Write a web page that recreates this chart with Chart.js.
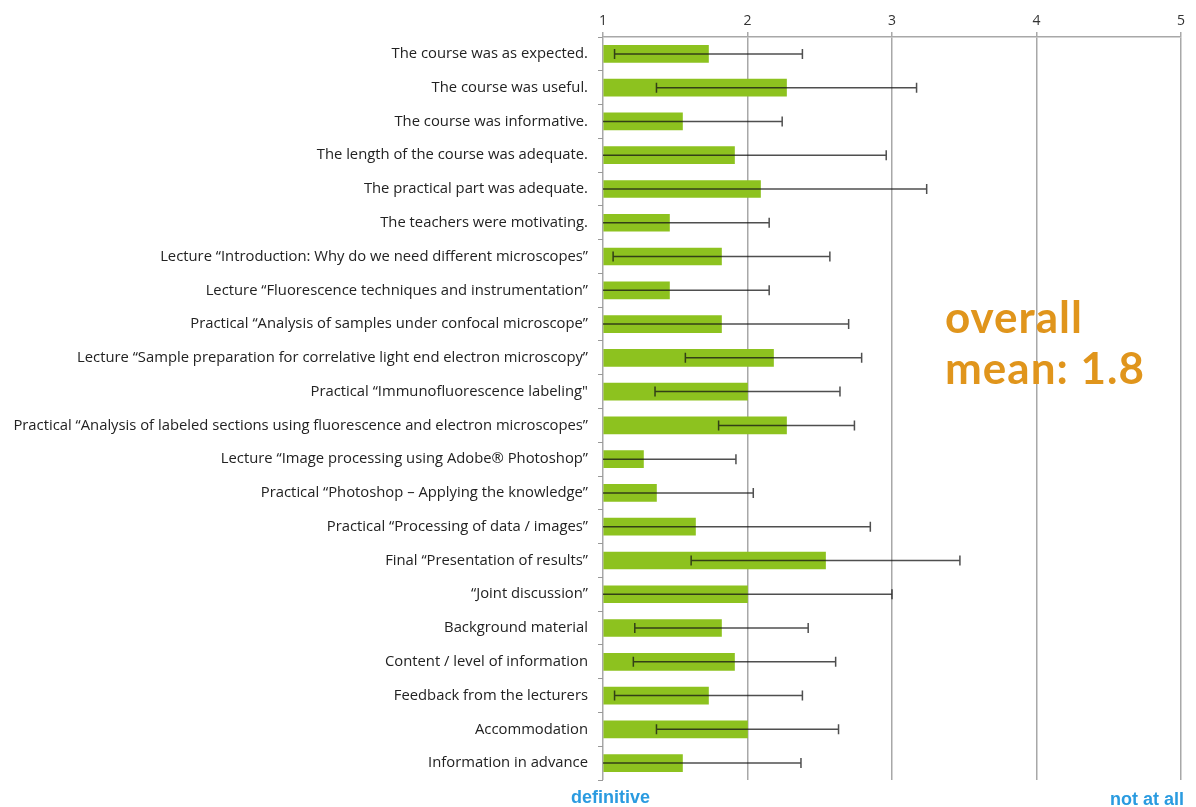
<!DOCTYPE html>
<html>
<head>
<meta charset="utf-8">
<script src="https://cdn.jsdelivr.net/npm/chart.js@4/dist/chart.umd.min.js"></script>
<style>
  body { margin: 0; background: #fff; }
  #wrap { position: relative; width: 1196px; height: 807px; }
  .note { position: absolute; white-space: nowrap; }
  #mean { left: 945px; top: 291px; color: #e0951c; font: bold 44px Lato, sans-serif; line-height: 51px; letter-spacing: 1px; }
  .blue { color: #2a9be0; font: bold 18px "Liberation Sans", sans-serif; }
</style>
</head>
<body>
<div id="wrap">
  <canvas id="chart" width="1196" height="807"></canvas>
  <div id="mean" class="note">overall<br>mean: 1.8</div>
  <div class="note blue" style="left:571px; top:787px;">definitive</div>
  <div class="note blue" style="left:1110px; top:789px;">not at all</div>
</div>
<script>
const categories = [
  'The course was as expected.',
  'The course was useful.',
  'The course was informative.',
  'The length of the course was adequate.',
  'The practical part was adequate.',
  'The teachers were motivating.',
  'Lecture \u201cIntroduction: Why do we need different microscopes\u201d',
  'Lecture \u201cFluorescence techniques and instrumentation\u201d',
  'Practical \u201cAnalysis of samples under confocal microscope\u201d',
  'Lecture \u201cSample preparation for correlative light end electron microscopy\u201d',
  'Practical \u201cImmunofluorescence labeling"',
  'Practical \u201cAnalysis of labeled sections using fluorescence and electron microscopes\u201d',
  'Lecture \u201cImage processing using Adobe\u00ae Photoshop\u201d',
  'Practical \u201cPhotoshop \u2013 Applying the knowledge\u201d',
  'Practical \u201cProcessing of data / images\u201d',
  'Final \u201cPresentation of results\u201d',
  '\u201cJoint discussion\u201d',
  'Background material',
  'Content / level of information',
  'Feedback from the lecturers',
  'Accommodation',
  'Information in advance'
];

const means = [1.73, 2.27, 1.55, 1.91, 2.09, 1.46, 1.82, 1.46, 1.82, 2.18, 2.0,
               2.27, 1.28, 1.37, 1.64, 2.54, 2.0, 1.82, 1.91, 1.73, 2.0, 1.55];
const stdDevs = [0.65, 0.9, 0.69, 1.05, 1.15, 0.69, 0.75, 0.69, 0.88, 0.61, 0.64,
                 0.47, 0.64, 0.67, 1.21, 0.93, 1.0, 0.6, 0.7, 0.65, 0.63, 0.82];
const scaleTicks = [1, 2, 3, 4, 5];

// error bars drawn on top of the bars, clipped at the left end of the scale
const errorBars = {
  id: 'errorBars',
  afterDatasetsDraw(chart) {
    const ctx = chart.ctx;
    const xs = chart.scales.x, ys = chart.scales.y;
    ctx.save();
    ctx.strokeStyle = 'rgba(20,20,20,0.75)';
    ctx.lineWidth = 1.5;
    means.forEach(function(m, i) {
      const lo = Math.max(scaleTicks[0], m - stdDevs[i]);
      const hi = m + stdDevs[i];
      const y = ys.getPixelForValue(i);
      const x1 = xs.getPixelForValue(lo);
      const x2 = xs.getPixelForValue(hi);
      ctx.beginPath();
      ctx.moveTo(x1, y);
      ctx.lineTo(x2, y);
      ctx.moveTo(x2, y - 5);
      ctx.lineTo(x2, y + 5);
      if (m - stdDevs[i] > scaleTicks[0]) {
        ctx.moveTo(x1, y - 5);
        ctx.lineTo(x1, y + 5);
      }
      ctx.stroke();
    });
    ctx.restore();
  }
};

new Chart(document.getElementById('chart'), {
  type: 'bar',
  data: {
    labels: categories,
    datasets: [{
      data: means,
      base: 1,
      backgroundColor: '#8dc21f',
      barThickness: 17
    }]
  },
  options: {
    indexAxis: 'y',
    responsive: false,
    animation: false,
    layout: { padding: { left: 0, right: 15, top: 0, bottom: 27 } },
    plugins: { legend: { display: false }, tooltip: { enabled: false } },
    scales: {
      x: {
        position: 'top',
        min: 1,
        max: 5,
        afterBuildTicks(scale) { scale.ticks = scaleTicks.map(v => ({ value: v })); },
        afterFit(scale) { scale.height = 37; },
        ticks: { color: '#333', font: { family: 'Open Sans', size: 14 }, padding: 3 },
        grid: { color: '#a8a8a8', lineWidth: 1.5, tickLength: 5 },
        border: { color: '#a8a8a8', width: 1.5 }
      },
      y: {
        afterFit(scale) { scale.width = 603; },
        ticks: { color: '#222', font: { family: 'Open Sans', size: 14.8 }, padding: 10 },
        grid: { offset: true, drawOnChartArea: false, tickLength: 5, color: '#999' },
        border: { display: false }
      }
    }
  },
  plugins: [errorBars]
});
</script>
</body>
</html>
